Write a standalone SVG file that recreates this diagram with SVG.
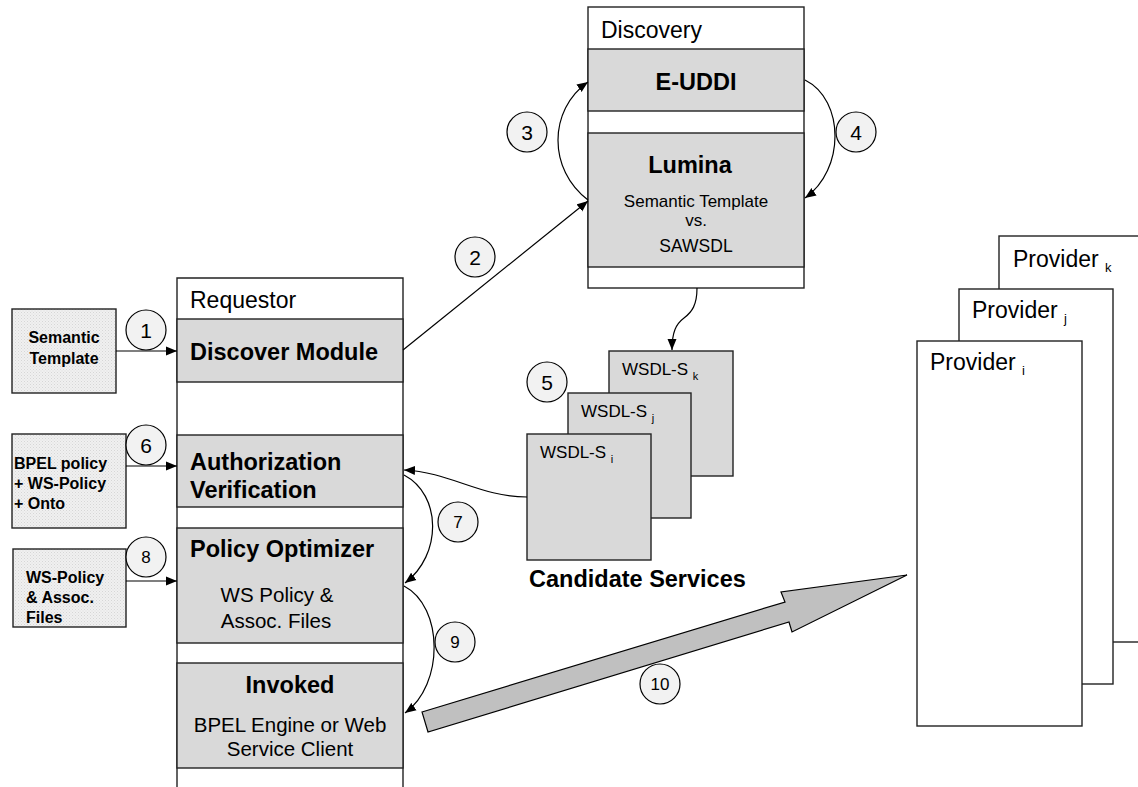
<svg xmlns="http://www.w3.org/2000/svg" width="1138" height="787" viewBox="0 0 1138 787">
  <defs>
    <pattern id="dots" width="3" height="3" patternUnits="userSpaceOnUse">
      <rect width="3" height="3" fill="#f0f0f0"/>
      <rect x="0" y="0" width="1" height="1" fill="#d6d6d6"/>
      <rect x="1.5" y="1.5" width="1" height="1" fill="#dedede"/>
    </pattern>
    <marker id="arrow" markerUnits="userSpaceOnUse" markerWidth="12" markerHeight="10" viewBox="0 0 12 10" refX="11" refY="5" orient="auto">
      <path d="M0,0.5 L11,5 L0,9.5 z" fill="#000"/>
    </marker>
  </defs>
  <style>
    .frame { fill: #fff; stroke: #222; stroke-width: 1.4; }
    .band { fill: #d9d9d9; stroke: #222; stroke-width: 1.4; }
    .input { fill: url(#dots); stroke: #222; stroke-width: 1.4; }
    .wsdl { fill: #d9d9d9; stroke: #222; stroke-width: 1.4; }
    .step circle { fill: #f2f2f2; stroke: #000; stroke-width: 1.2; }
    .step text { font-family: "Liberation Sans", Arial, sans-serif; font-size: 21px; text-anchor: middle; fill: #000; }
    .step.small text { font-size: 17px; }
    .t { font-family: "Liberation Sans", Arial, sans-serif; fill: #000; }
    .title { font-size: 23px; }
    .bold { font-weight: bold; font-size: 23.5px; }
    .sub { font-size: 20.5px; }
    .mid { text-anchor: middle; }
    .in { font-weight: bold; font-size: 16px; }
    .conn { fill: none; stroke: #000; stroke-width: 1.2; }
  </style>

  <!-- Requestor column -->
  <g id="requestor">
    <path d="M177,787 V278 H403 V787" class="frame"/>
    <text x="190" y="308" class="t title">Requestor</text>
  </g>
  <g id="discover-module">
    <rect x="177" y="319" width="226" height="63" class="band"/>
    <text x="190" y="360" class="t bold">Discover Module</text>
  </g>
  <g id="authorization-verification">
    <rect x="177" y="435" width="226" height="72" class="band"/>
    <text x="190" y="470" class="t bold">Authorization</text>
    <text x="190" y="498" class="t bold">Verification</text>
  </g>
  <g id="policy-optimizer">
    <rect x="177" y="528" width="226" height="115" class="band"/>
    <text x="190" y="557" class="t bold">Policy Optimizer</text>
    <text x="277" y="602" class="t sub mid">WS Policy &amp;</text>
    <text x="276" y="628" class="t sub mid">Assoc. Files</text>
  </g>
  <g id="invoked">
    <rect x="177" y="663" width="226" height="105" class="band"/>
    <text x="290" y="693" class="t bold mid">Invoked</text>
    <text x="290" y="732" class="t sub mid">BPEL Engine or Web</text>
    <text x="290" y="756" class="t sub mid">Service Client</text>
  </g>

  <!-- Inputs to the requestor -->
  <g id="semantic-template">
    <rect x="12" y="309" width="104" height="84" class="input"/>
    <text x="64" y="343" class="t in mid">Semantic</text>
    <text x="64" y="364" class="t in mid">Template</text>
  </g>
  <g id="bpel-policy">
    <rect x="12" y="434" width="114" height="94" class="input"/>
    <text x="14" y="469" class="t in">BPEL policy</text>
    <text x="14" y="489" class="t in">+ WS-Policy</text>
    <text x="14" y="509" class="t in">+ Onto</text>
  </g>
  <g id="ws-policy-files">
    <rect x="13" y="549" width="113" height="78" class="input"/>
    <text x="26" y="583" class="t in">WS-Policy</text>
    <text x="26" y="603" class="t in">&amp; Assoc.</text>
    <text x="26" y="623" class="t in">Files</text>
  </g>

  <!-- Discovery column -->
  <g id="discovery">
    <rect x="588" y="7" width="216" height="281" class="frame"/>
    <text x="601" y="38" class="t title">Discovery</text>
  </g>
  <g id="e-uddi">
    <rect x="588" y="49" width="216" height="62" class="band"/>
    <text x="696" y="90" class="t bold mid">E-UDDI</text>
  </g>
  <g id="lumina">
    <rect x="588" y="133" width="216" height="134" class="band"/>
    <text x="690" y="173" class="t bold mid">Lumina</text>
    <text x="696" y="207" class="t mid" font-size="17">Semantic Template</text>
    <text x="696" y="226" class="t mid" font-size="17">vs.</text>
    <text x="696" y="252" class="t mid" font-size="17.5">SAWSDL</text>
  </g>

  <!-- Candidate services -->
  <g id="wsdl-s-k">
    <rect x="609" y="351" width="124" height="125" class="wsdl"/>
    <text x="622" y="375" class="t" font-size="17">WSDL-S <tspan font-size="11" dy="5">k</tspan></text>
  </g>
  <g id="wsdl-s-j">
    <rect x="568" y="393" width="123" height="125" class="wsdl"/>
    <text x="581" y="417" class="t" font-size="17">WSDL-S <tspan font-size="11" dy="5">j</tspan></text>
  </g>
  <g id="wsdl-s-i">
    <rect x="527" y="434" width="124" height="126" class="wsdl"/>
    <text x="540" y="458" class="t" font-size="17">WSDL-S <tspan font-size="11" dy="5">i</tspan></text>
  </g>
  <g id="candidate-services">
    <text x="529" y="587" class="t bold">Candidate Services</text>
  </g>

  <!-- Providers -->
  <g id="provider-k">
    <rect x="999" y="236" width="160" height="406" class="frame"/>
    <text x="1013" y="267" class="t title">Provider <tspan font-size="13" dy="5">k</tspan></text>
  </g>
  <g id="provider-j">
    <rect x="959" y="289" width="154" height="395" class="frame"/>
    <text x="972" y="318" class="t title">Provider <tspan font-size="13" dy="5">j</tspan></text>
  </g>
  <g id="provider-i">
    <rect x="917" y="341" width="165" height="385" class="frame"/>
    <text x="930" y="370" class="t title">Provider <tspan font-size="13" dy="5">i</tspan></text>
  </g>

  <!-- Connectors -->
  <g id="connectors">
    <line x1="116" y1="351" x2="177" y2="351" class="conn" marker-end="url(#arrow)"/>
    <line x1="126" y1="466" x2="177" y2="466" class="conn" marker-end="url(#arrow)"/>
    <line x1="126" y1="581" x2="177" y2="581" class="conn" marker-end="url(#arrow)"/>
    <line x1="403" y1="350" x2="588" y2="201" class="conn" marker-end="url(#arrow)"/>
    <path d="M588,200 C548,170 548,110 588,82" class="conn" marker-end="url(#arrow)"/>
    <path d="M805,80 C845,100 845,170 805,198" class="conn" marker-end="url(#arrow)"/>
    <path d="M697,288 C697,305 692,312 684,318 C676,324 672,332 672,350" class="conn" marker-end="url(#arrow)"/>
    <path d="M527,497 C480,497 450,472 404,470" class="conn" marker-end="url(#arrow)"/>
    <path d="M404,475 C442,495 442,555 405,583" class="conn" marker-end="url(#arrow)"/>
    <path d="M404,586 C444,607 444,685 405,713" class="conn" marker-end="url(#arrow)"/>
    <polygon points="422,712 785,602 781,592 907,575 792,632 789,622 428,732" fill="#c0c0c0" stroke="#000" stroke-width="1.2" stroke-linejoin="miter"/>
  </g>

  <!-- Step numbers -->
  <g id="step-1" class="step"><circle cx="146" cy="330" r="20"/><text x="146" y="338">1</text></g>
  <g id="step-2" class="step"><circle cx="475" cy="257" r="20"/><text x="475" y="265">2</text></g>
  <g id="step-3" class="step"><circle cx="527" cy="132" r="20"/><text x="527" y="140">3</text></g>
  <g id="step-4" class="step"><circle cx="856" cy="132" r="20"/><text x="856" y="140">4</text></g>
  <g id="step-5" class="step"><circle cx="547" cy="382" r="20"/><text x="547" y="390">5</text></g>
  <g id="step-6" class="step"><circle cx="146" cy="445" r="20"/><text x="146" y="453">6</text></g>
  <g id="step-7" class="step small"><circle cx="458" cy="522" r="20"/><text x="458" y="528">7</text></g>
  <g id="step-8" class="step small"><circle cx="146" cy="557" r="20"/><text x="146" y="563">8</text></g>
  <g id="step-9" class="step small"><circle cx="455" cy="642" r="20"/><text x="455" y="648">9</text></g>
  <g id="step-10" class="step small"><circle cx="660" cy="684" r="20"/><text x="660" y="690">10</text></g>
</svg>
